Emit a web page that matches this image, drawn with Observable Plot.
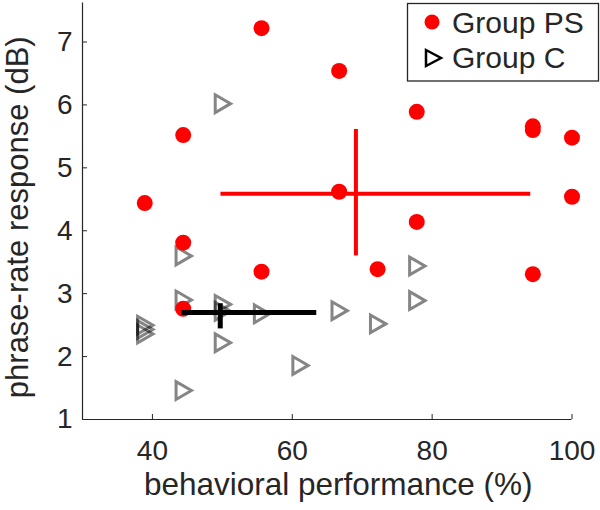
<!DOCTYPE html>
<html><head><meta charset="utf-8">
<script src="https://cdn.jsdelivr.net/npm/d3@7"></script>
<script src="https://cdn.jsdelivr.net/npm/@observablehq/plot@0.6"></script>
<style>
body{margin:0;background:#fff;}
#wrap{position:relative;width:600px;height:510px;font-family:"Liberation Sans",Arial,sans-serif;}
#legend{position:absolute;left:0;top:0;pointer-events:none;}
</style></head><body><div id="wrap"></div>
<script>
// ---- data ----
const xDomain = [30, 100];
const yDomain = [1, 7.62];
const xTicks = [40, 60, 80, 100];
const yTicks = [1, 2, 3, 4, 5, 6, 7];

const psPerf = [38.9, 44.4, 44.4, 44.4, 55.6, 55.6, 66.7, 66.7, 72.2, 77.8, 77.8, 94.4, 94.4, 94.4, 100, 100];
const psResp = [4.44, 5.52, 3.81, 2.76, 7.22, 3.35, 6.54, 4.62, 3.39, 5.89, 4.14, 5.66, 5.60, 3.31, 5.48, 4.54];

const cPerf = [38.9, 38.9, 38.9, 44.4, 44.4, 44.4, 50, 50, 50, 50, 55.6, 61.1, 66.7, 72.2, 77.8, 77.8];
const cResp = [2.50, 2.43, 2.36, 3.60, 2.90, 1.46, 6.02, 2.83, 2.72, 2.22, 2.68, 1.86, 2.73, 2.52, 3.44, 2.89];

// summary crosses: center, x range, y range
const psCross = {x: 69.1, xlo: 49.8, xhi: 94.1, y: 4.59, ylo: 3.60, yhi: 5.61};
const cCross  = {x: 49.7, xlo: 44.2, xhi: 63.5, y: 2.70, ylo: 2.44, yhi: 2.84};

const xLabel = "behavioral performance (%)";
const yLabel = "phrase-rate response (dB)";
const legendLabels = ["Group PS", "Group C"];

// ---- build ----
const ps = psPerf.map((x, i) => ({x, y: psResp[i]}));
const cg = cPerf.map((x, i) => ({x, y: cResp[i]}));
const axisColor = "#262626";
const fmt = d => String(d);

const chart = Plot.plot({
  width: 600, height: 510,
  marginLeft: 82, marginRight: 28.5, marginTop: 2.5, marginBottom: 91,
  x: {domain: xDomain},
  y: {domain: yDomain},
  style: {fontFamily: '"Liberation Sans", Arial, sans-serif', color: axisColor, background: "white"},
  marks: [
    Plot.ruleY([yDomain[0]], {stroke: axisColor, strokeWidth: 1.2}),
    Plot.ruleX([xDomain[0]], {stroke: axisColor, strokeWidth: 1.2}),
    Plot.axisX(xTicks, {tickSize: -5, tickPadding: 26, fontSize: 28, label: null, tickFormat: fmt}),
    Plot.axisY(yTicks, {tickSize: -5, tickPadding: 15, fontSize: 28, label: null, tickFormat: fmt}),
    Plot.text([xLabel], {text: d => d, frameAnchor: "bottom", textAnchor: "middle", dx: 11, dy: 75, lineAnchor: "bottom", fontSize: 31.5, fill: axisColor}),
    Plot.text([yLabel], {text: d => d, frameAnchor: "left", textAnchor: "middle", rotate: -90, dx: -55, dy: 6, lineAnchor: "bottom", fontSize: 31, fill: axisColor}),
    Plot.dot(cg, {x: "x", y: "y", symbol: "triangle", rotate: 90, r: 6.6, dx: -2,
                  stroke: "black", strokeOpacity: 0.48, strokeWidth: 3, fill: "none"}),
    Plot.dot(ps, {x: "x", y: "y", r: 8, fill: "red", stroke: "none"}),
    Plot.ruleY([psCross], {y: "y", x1: "xlo", x2: "xhi", stroke: "red", strokeWidth: 4}),
    Plot.ruleX([psCross], {x: "x", y1: "ylo", y2: "yhi", stroke: "red", strokeWidth: 4}),
    Plot.ruleY([cCross], {y: "y", x1: "xlo", x2: "xhi", stroke: "black", strokeWidth: 5}),
    Plot.ruleX([cCross], {x: "x", y1: "ylo", y2: "yhi", stroke: "black", strokeWidth: 5})
  ]
});

const wrap = document.getElementById("wrap");
wrap.appendChild(chart);

// legend overlay
const ns = "http://www.w3.org/2000/svg";
const lg = document.createElementNS(ns, "svg");
lg.setAttribute("id", "legend");
lg.setAttribute("width", 600);
lg.setAttribute("height", 510);
lg.innerHTML = `
  <rect x="407.5" y="3.5" width="191" height="77.5" fill="white" stroke="${axisColor}" stroke-width="1.3"/>
  <circle cx="432" cy="22" r="7.5" fill="red"/>
  <path d="M426,50 L441,58 L426,66 Z" fill="none" stroke="black" stroke-width="2.5" stroke-linejoin="miter"/>
  <text x="452" y="33" font-size="30" fill="${axisColor}" font-family='"Liberation Sans", Arial, sans-serif'>${legendLabels[0]}</text>
  <text x="452" y="68" font-size="30" fill="${axisColor}" font-family='"Liberation Sans", Arial, sans-serif'>${legendLabels[1]}</text>
`;
wrap.appendChild(lg);
</script>
</body></html>
